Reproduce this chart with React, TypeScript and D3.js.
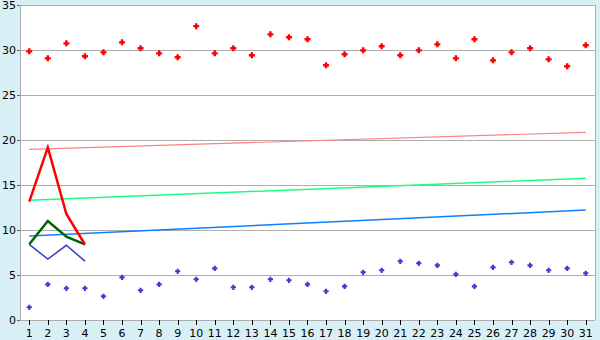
import React from "react";
import * as d3 from "d3";

const categories = Array.from({ length: 31 }, (_, i) => String(i + 1));
const redPoints = [29.85, 29.07, 30.74, 29.3, 29.74, 30.85, 30.19, 29.63, 29.19, 32.65, 29.63, 30.19, 29.41, 31.74, 31.41, 31.19, 28.3, 29.52, 29.96, 30.41, 29.41, 29.96, 30.63, 29.07, 31.19, 28.85, 29.74, 30.19, 28.96, 28.19, 30.52];
const bluePoints = [1.41, 3.96, 3.52, 3.52, 2.63, 4.74, 3.3, 3.96, 5.41, 4.52, 5.74, 3.63, 3.63, 4.52, 4.41, 3.96, 3.19, 3.74, 5.3, 5.52, 6.52, 6.3, 6.07, 5.07, 3.74, 5.85, 6.41, 6.07, 5.52, 5.74, 5.19];
const redLine = [13.15, 19.17, 11.78, 8.39];
const greenLine = [8.41, 11.0, 9.26, 8.41];
const blueLine = [8.41, 6.76, 8.3, 6.54];
const pinkTrend = [18.96, 20.85];
const greenTrend = [13.3, 15.74];
const blueTrend = [9.32, 12.22];
const yTicks = [0, 5, 10, 15, 20, 25, 30, 35];

const W = 600, H = 340;
const left = 20, right = 595, top = 5, bottom = 320;

export default function App() {
  const x = d3.scaleBand<string>().domain(categories).range([left, right]);
  const y = d3.scaleLinear().domain([0, 35]).range([bottom, top]);
  const cx = (i: number) => (x(categories[i]) as number) + x.bandwidth() / 2;
  const line = d3.line<number>().x((_, i) => cx(i)).y((d) => y(d));
  const trend = (v: number[]) =>
    d3.line<number>().x((_, i) => (i === 0 ? cx(0) : cx(categories.length - 1))).y((d) => y(d))(v) as string;
  const cross = (px: number, py: number, s: number) => {
    const a = s, b = s / 2.5;
    return `M${px - b},${py - a}H${px + b}V${py - b}H${px + a}V${py + b}H${px + b}V${py + a}H${px - b}V${py + b}H${px - a}V${py - b}H${px - b}Z`;
  };
  const font = "DejaVu Sans, Verdana, sans-serif";
  return (
    <svg width={W} height={H} style={{ position: "absolute", left: 0, top: 0 }}>
      <rect x={0} y={0} width={W} height={H} fill="#d9eff6" />
      <rect x={left} y={top} width={right - left} height={bottom - top} fill="#ffffff" />
      {yTicks.slice(1).map((t) => (
        <line key={t} x1={left} x2={right} y1={y(t)} y2={y(t)} stroke="#adadad" strokeWidth={1} shapeRendering="crispEdges" />
      ))}
      <line x1={right} x2={right} y1={top} y2={bottom} stroke="#adadad" shapeRendering="crispEdges" />
      <line x1={left} x2={left} y1={top} y2={bottom} stroke="#adadad" shapeRendering="crispEdges" />
      <line x1={left} x2={right} y1={bottom} y2={bottom} stroke="#adadad" shapeRendering="crispEdges" />
      {yTicks.map((t) => (
        <g key={t}>
          <line x1={left - 3} x2={left} y1={y(t)} y2={y(t)} stroke="#666" shapeRendering="crispEdges" />
          <text x={left - 4} y={y(t)} dy="0.35em" textAnchor="end" fontSize={11} fontFamily={font} fill="#000">{t}</text>
        </g>
      ))}
      {categories.map((c, i) => (
        <g key={c}>
          <line x1={Math.round(cx(i)) + 0.5} x2={Math.round(cx(i)) + 0.5} y1={bottom} y2={bottom + 5} stroke="#000" />
          <text x={cx(i)} y={bottom + 17} textAnchor="middle" fontSize={11} fontFamily={font} fill="#000">{c}</text>
        </g>
      ))}
      <path d={trend(pinkTrend)} fill="none" stroke="#ff8080" strokeWidth={1.2} />
      <path d={trend(greenTrend)} fill="none" stroke="#1aff80" strokeWidth={1.5} />
      <path d={trend(blueTrend)} fill="none" stroke="#0a80ff" strokeWidth={1.5} />
      <path d={line(blueLine) as string} fill="none" stroke="#3b3bd0" strokeWidth={1.5} />
      <path d={line(greenLine) as string} fill="none" stroke="#006400" strokeWidth={2.5} />
      <path d={line(redLine) as string} fill="none" stroke="#ff0000" strokeWidth={2.5} />
      {redPoints.map((v, i) => (
        <path key={"r" + i} d={cross(cx(i), y(v), 3)} fill="#ff0000" />
      ))}
      {bluePoints.map((v, i) => (
        <path key={"b" + i} d={cross(cx(i), y(v), 2.6)} fill="#3b3bd0" />
      ))}
    </svg>
  );
}
